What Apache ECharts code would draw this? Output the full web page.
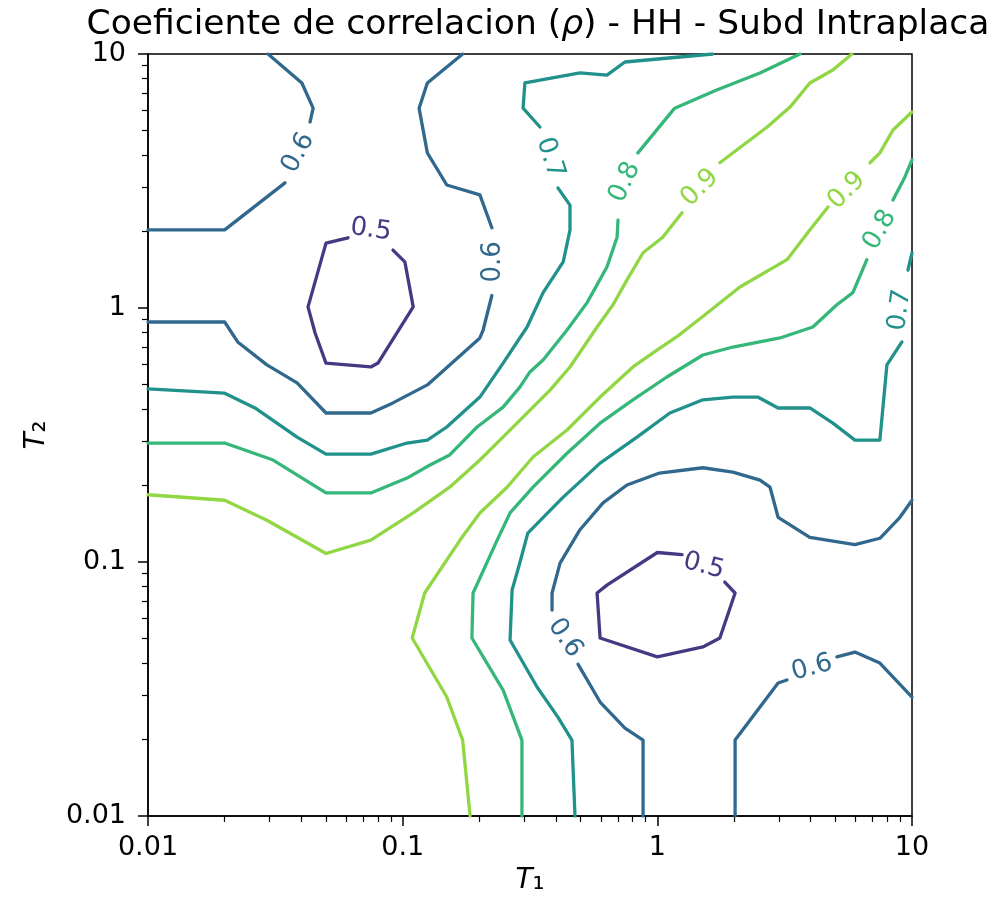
<!DOCTYPE html>
<html>
<head>
<meta charset="utf-8">
<title>Coeficiente de correlacion - HH - Subd Intraplaca</title>
<script src="https://cdn.jsdelivr.net/npm/echarts@6/dist/echarts.min.js"></script>
<style>
  html, body { margin: 0; padding: 0; background: #fff; }
  #contour-chart { width: 1002px; height: 906px; }
</style>
</head>
<body>
<div id="contour-chart"></div>
<script>
// contour levels and their viridis colours
var levels = [0.5, 0.6, 0.7, 0.8, 0.9];
var levelColors = ['#443a83', '#31688e', '#21918c', '#35b779', '#90d743'];

// axis ticks
var majorTicks = [0.01, 0.1, 1, 10];
var minorTicks = [0.02, 0.03, 0.04, 0.05, 0.06, 0.07, 0.08, 0.09,
                  0.2, 0.3, 0.4, 0.5, 0.6, 0.7, 0.8, 0.9,
                  2, 3, 4, 5, 6, 7, 8, 9];

// contour lines, [T1, T2]; null = gap left for the inline label
var rho05a = [[0.0916,1.69],[0.102,1.52],[0.110,1.01],[0.080,0.607],[0.075,0.586],[0.05,0.607],
              [0.0453,0.797],[0.0425,1.01],[0.05,1.80],[0.061,1.89]];
var rho05b = [[1.84,0.0834],[2.02,0.0755],[1.76,0.0502],[1.51,0.0463],[1.0,0.0423],[0.596,0.0502],
              [0.58,0.0755],[0.634,0.0811],[1.0,0.109],[1.25,0.107]];

var rho06a = [[0.0296,10],[0.0402,7.69],[0.0445,6.12],[0.0433,5.40],null,[0.0345,3.11],[0.02,2.03],[0.01,2.03]];
var rho06b = [[0.172,10],[0.125,7.69],[0.116,6.12],[0.125,4.08],[0.149,3.05],[0.201,2.79],[0.224,2.07],null,
              [0.224,1.12],[0.207,0.819],[0.201,0.762],[0.125,0.498],[0.0916,0.423],[0.075,0.386],[0.05,0.386],
              [0.0385,0.507],[0.0293,0.597],[0.0225,0.735],[0.02,0.881],[0.01,0.881]];
var rho06c = [[0.879,0.01],[0.879,0.0199],[0.746,0.0222],[0.596,0.0281],[0.488,0.0396],null,
              [0.386,0.0647],[0.386,0.0755],[0.415,0.099],[0.497,0.134],[0.612,0.171],[0.76,0.201],
              [1.02,0.224],[1.51,0.235],[1.98,0.226],[2.53,0.210],[2.77,0.197],[2.98,0.150],[3.97,0.125],
              [5.97,0.117],[7.48,0.124],[8.97,0.150],[10,0.175]];
var rho06d = [[2.02,0.01],[2.02,0.0199],[2.98,0.0334],[3.23,0.0343],null,[5.07,0.0423],[5.97,0.0442],
              [7.48,0.0400],[10,0.0294]];

var rho07a = [[1.65,10],[0.746,9.30],[0.634,8.26],[0.497,8.42],[0.302,7.69],[0.297,6.12],[0.346,5.16],null,
              [0.407,2.97],[0.454,2.54],[0.454,2.03],[0.427,1.52],[0.356,1.15],[0.308,0.842],[0.248,0.607],
              [0.201,0.446],[0.149,0.340],[0.125,0.302],[0.104,0.294],[0.075,0.266],[0.05,0.266],
              [0.0385,0.310],[0.0263,0.404],[0.02,0.462],[0.01,0.480]];
var rho07b = [[0.475,0.01],[0.462,0.0199],[0.407,0.0245],[0.337,0.0322],[0.264,0.0493],[0.269,0.0776],
              [0.289,0.1],[0.31,0.13],[0.427,0.180],[0.596,0.245],[0.832,0.310],[1.12,0.386],[1.51,0.435],
              [1.98,0.446],[2.48,0.446],[2.98,0.404],[3.97,0.404],[4.89,0.352],[5.97,0.302],[7.48,0.302],
              [7.97,0.597],[9.13,0.735],null,[9.64,1.41],[10,1.65]];

var rho08a = [[3.63,10],[2.53,8.42],[1.71,7.21],[1.17,6.12],[0.839,4.08],null,[0.701,2.22],[0.695,1.90],
              [0.634,1.45],[0.53,1.05],[0.442,0.819],[0.356,0.624],[0.316,0.560],[0.289,0.489],[0.248,0.407],
              [0.196,0.340],[0.153,0.264],[0.128,0.241],[0.104,0.214],[0.075,0.187],[0.05,0.187],
              [0.031,0.252],[0.02,0.294],[0.01,0.294]];
var rho08b = [[0.294,0.01],[0.294,0.0199],[0.248,0.0313],[0.187,0.0502],[0.189,0.0755],[0.235,0.122],
              [0.264,0.156],[0.325,0.197],[0.442,0.268],[0.596,0.352],[0.802,0.435],[1.09,0.535],[1.51,0.653],
              [1.98,0.702],[3.03,0.762],[4.08,0.842],[5.07,1.03],[5.86,1.15],[6.65,1.55],null,
              [8.42,2.66],[9.38,3.28],[10,3.83]];

var rho09a = [[5.81,10],[4.89,8.65],[3.97,7.69],[3.32,6.18],[2.70,5.16],[1.76,3.73],null,[1.25,2.37],
              [1.05,1.90],[0.879,1.65],[0.76,1.29],[0.67,1.03],[0.58,0.842],[0.454,0.586],[0.379,0.475],
              [0.289,0.362],[0.241,0.302],[0.201,0.252],[0.153,0.197],[0.11,0.156],[0.075,0.122],
              [0.05,0.108],[0.0293,0.146],[0.02,0.175],[0.01,0.184]];
var rho09b = [[0.184,0.01],[0.172,0.0199],[0.149,0.0294],[0.109,0.0502],[0.122,0.0755],[0.168,0.122],
              [0.201,0.156],[0.257,0.197],[0.325,0.259],[0.442,0.331],[0.596,0.446],[0.802,0.586],
              [1.0,0.684],[1.19,0.769],[1.57,0.956],[2.11,1.21],[3.23,1.55],[3.97,2.03],[4.68,2.50],null,
              [6.84,3.73],[7.48,4.08],[8.42,5.02],[10,5.91]];

var contourLines = [
  { level: 0.5, pts: rho05a }, { level: 0.5, pts: rho05b },
  { level: 0.6, pts: rho06a }, { level: 0.6, pts: rho06b }, { level: 0.6, pts: rho06c }, { level: 0.6, pts: rho06d },
  { level: 0.7, pts: rho07a }, { level: 0.7, pts: rho07b },
  { level: 0.8, pts: rho08a }, { level: 0.8, pts: rho08b },
  { level: 0.9, pts: rho09a }, { level: 0.9, pts: rho09b }
];

// inline contour labels: level, anchor [T1, T2], rotation
var labelLevels = [0.5, 0.5, 0.6, 0.6, 0.6, 0.6, 0.7, 0.7, 0.8, 0.8, 0.9, 0.9];
var labelPoints = [[0.075,2.03],[1.52,0.0964],[0.0389,4.08],[0.226,1.52],[0.434,0.0502],[4.05,0.0383],
                   [0.379,3.90],[8.97,0.982],[0.746,3.13],[7.48,2.03],[1.47,2.97],[5.55,2.9]];
var labelRotate = [-8, -15, 62, 90, -55, 15, -72, 82, 65, 60, 45, 45];

function colorOf(level) {
  return levelColors[levels.indexOf(level)];
}
function fmtTick(v) {
  return String(Number(v.toPrecision(3)));
}

var series = [];
contourLines.forEach(function (c) {
  var seg = [];
  var flush = function () {
    if (seg.length > 1) {
      series.push({
        type: 'line',
        data: seg,
        showSymbol: false,
        symbol: 'none',
        silent: true,
        animation: false,
        lineStyle: { color: colorOf(c.level), width: 3.3, cap: 'round', join: 'round' }
      });
    }
    seg = [];
  };
  c.pts.forEach(function (p) {
    if (p === null) { flush(); } else { seg.push(p); }
  });
  flush();
});

series.push({
  type: 'scatter',
  symbolSize: 1,
  silent: true,
  animation: false,
  z: 5,
  itemStyle: { color: 'rgba(0,0,0,0)', opacity: 1 },
  data: labelPoints.map(function (p, i) {
    var col = colorOf(labelLevels[i]);
    return {
      name: labelLevels[i].toFixed(1),
      value: p,
      label: {
        show: true,
        position: 'inside',
        formatter: '{b}',
        rotate: labelRotate[i],
        color: col,
        opacity: 1,
        fontSize: 26,
        fontFamily: 'DejaVu Sans'
      }
    };
  })
});

var font = 'DejaVu Sans';
var chart = echarts.init(document.getElementById('contour-chart'), null, { renderer: 'canvas' });
chart.setOption({
  animation: false,
  backgroundColor: '#fff',
  title: {
    text: 'Coeficiente de correlacion ({r|ρ}) - HH - Subd Intraplaca',
    left: 533,
    top: 3,
    textAlign: 'center',
    textStyle: {
      fontFamily: font, fontSize: 34.5, fontWeight: 'normal', color: '#000',
      rich: { r: { fontFamily: font, fontSize: 34.5, fontStyle: 'italic', color: '#000' } }
    }
  },
  grid: {
    left: 148, right: 90, top: 54, bottom: 90,
    show: true, borderColor: '#000', borderWidth: 1.5, backgroundColor: 'transparent'
  },
  xAxis: [{
    type: 'log', logBase: 10, min: 0.01, max: 10,
    name: '{t|T}{s|₁}', nameLocation: 'middle', nameGap: 50,
    nameTextStyle: {
      rich: {
        t: { fontFamily: font, fontSize: 28, fontStyle: 'italic', color: '#000' },
        s: { fontFamily: font, fontSize: 30, color: '#000' }
      }
    },
    axisLine: { show: true, onZero: false, lineStyle: { color: '#000', width: 1.5 } },
    axisTick: { show: true, length: 10, lineStyle: { color: '#000', width: 1.5 } },
    axisLabel: { margin: 18, fontFamily: font, fontSize: 27, color: '#000', formatter: fmtTick },
    splitLine: { show: false }
  }, {
    type: 'log', logBase: 10, min: 0.01, max: 10, position: 'bottom',
    axisLine: { show: false },
    axisTick: { show: true, length: 6, customValues: minorTicks, lineStyle: { color: '#000', width: 1.2 } },
    axisLabel: { show: false },
    splitLine: { show: false }
  }],
  yAxis: [{
    type: 'log', logBase: 10, min: 0.01, max: 10,
    name: '{t|T}{s|₂}', nameLocation: 'middle', nameGap: 96, nameRotate: 90,
    nameTextStyle: {
      rich: {
        t: { fontFamily: font, fontSize: 28, fontStyle: 'italic', color: '#000' },
        s: { fontFamily: font, fontSize: 30, color: '#000' }
      }
    },
    axisLine: { show: true, onZero: false, lineStyle: { color: '#000', width: 1.5 } },
    axisTick: { show: true, length: 10, lineStyle: { color: '#000', width: 1.5 } },
    axisLabel: { margin: 22, fontFamily: font, fontSize: 27, color: '#000', formatter: fmtTick },
    splitLine: { show: false }
  }, {
    type: 'log', logBase: 10, min: 0.01, max: 10, position: 'left',
    axisLine: { show: false },
    axisTick: { show: true, length: 6, customValues: minorTicks, lineStyle: { color: '#000', width: 1.2 } },
    axisLabel: { show: false },
    splitLine: { show: false }
  }],
  series: series
});
</script>
</body>
</html>
